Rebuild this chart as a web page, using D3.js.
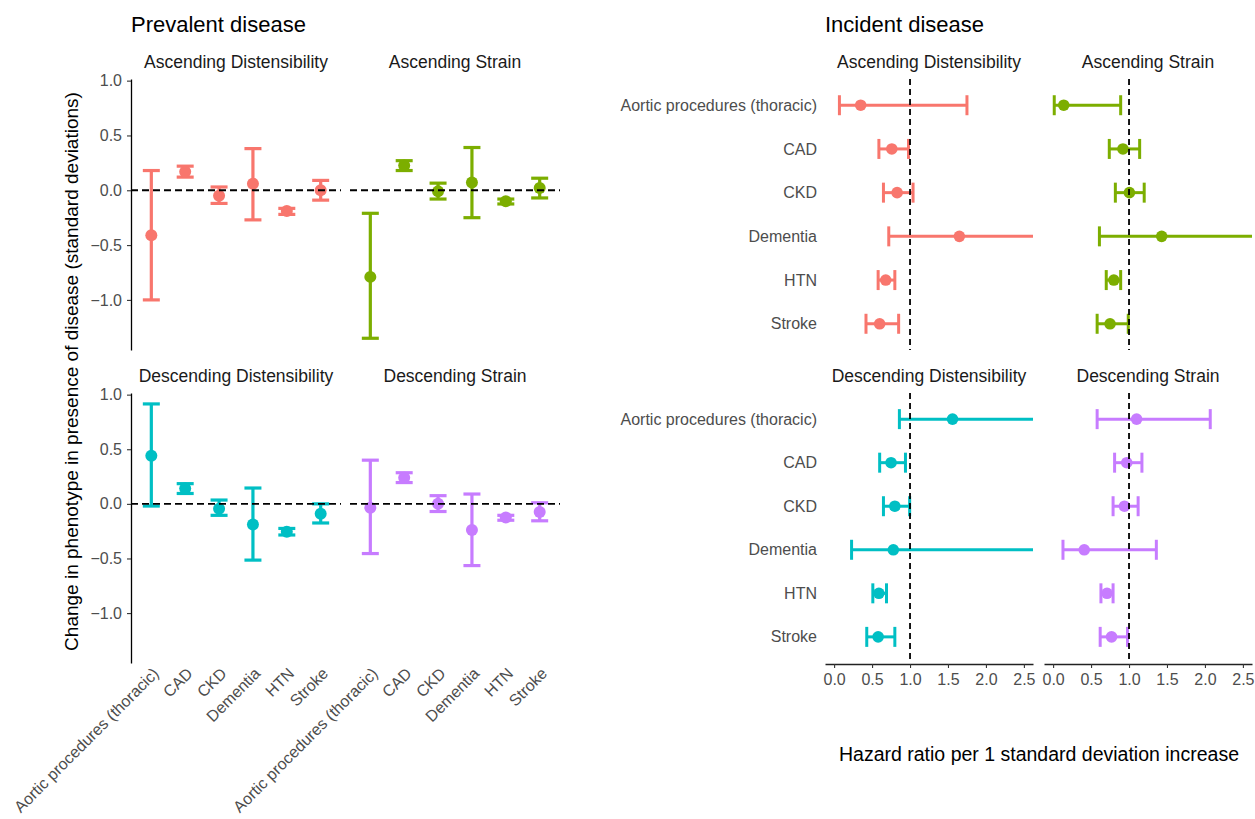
<!DOCTYPE html>
<html>
<head>
<meta charset="utf-8">
<script src="https://cdn.jsdelivr.net/npm/d3@7"></script>
<style>
  body { margin: 0; background: #fff; }
  svg { font-family: "Liberation Sans", Arial, Helvetica, sans-serif; }
  .tick text { fill: #4d4d4d; font-size: 16px; }
</style>
</head>
<body>
<svg id="chart" width="1255" height="819"></svg>
<script>
// Data

var diseases = ["Aortic procedures (thoracic)", "CAD", "CKD", "Dementia", "HTN", "Stroke"];
var phenotypes = ["Ascending Distensibility", "Ascending Strain", "Descending Distensibility", "Descending Strain"];
var phenoColors = ["#F8766D", "#7CAE00", "#00BFC4", "#C77CFF"];

// prevalent disease: [estimate, lower, upper] in SD units, one row per disease
var prevAscDist = [[-0.41, -1.00, 0.18], [0.17, 0.12, 0.22], [-0.05, -0.12, 0.03], [0.06, -0.27, 0.38], [-0.19, -0.22, -0.165], [0.00, -0.09, 0.09]];
var prevAscStrain = [[-0.79, -1.35, -0.21], [0.225, 0.18, 0.27], [-0.01, -0.08, 0.065], [0.07, -0.25, 0.39], [-0.10, -0.125, -0.08], [0.02, -0.07, 0.11]];
var prevDescDist = [[0.44, -0.02, 0.915], [0.14, 0.095, 0.185], [-0.045, -0.105, 0.035], [-0.19, -0.515, 0.145], [-0.255, -0.285, -0.225], [-0.09, -0.175, 0.00]];
var prevDescStrain = [[-0.035, -0.455, 0.40], [0.24, 0.195, 0.285], [0.00, -0.07, 0.075], [-0.24, -0.565, 0.09], [-0.125, -0.15, -0.105], [-0.075, -0.155, 0.01]];

// incident disease: [hazard ratio, lower, upper] per 1 SD
var incAscDist = [[0.35, 0.07, 1.75], [0.76, 0.59, 0.98], [0.83, 0.65, 1.04], [1.65, 0.72, 3.75], [0.68, 0.58, 0.80], [0.60, 0.42, 0.85]];
var incAscStrain = [[0.14, 0.015, 0.89], [0.92, 0.74, 1.14], [1.005, 0.82, 1.20], [1.43, 0.61, 3.30], [0.80, 0.70, 0.89], [0.75, 0.58, 0.99]];
var incDescDist = [[1.56, 0.86, 2.85], [0.75, 0.60, 0.94], [0.80, 0.65, 0.995], [0.78, 0.23, 2.70], [0.59, 0.51, 0.69], [0.58, 0.43, 0.80]];
var incDescStrain = [[1.10, 0.58, 2.07], [0.97, 0.81, 1.17], [0.94, 0.79, 1.12], [0.41, 0.13, 1.36], [0.71, 0.63, 0.79], [0.77, 0.62, 0.98]];

var prevYTicks = [-1.0, -0.5, 0.0, 0.5, 1.0];
var incXTicks = [0.0, 0.5, 1.0, 1.5, 2.0, 2.5];

var prevData = [prevAscDist, prevAscStrain, prevDescDist, prevDescStrain];
var incData = [incAscDist, incAscStrain, incDescDist, incDescStrain];

// Layout

var svg = d3.select("#chart");
var rows = [[79, 350], [393, 663]];
var leftCols = [[131, 341], [350, 560]];
var rightCols = [[825, 1033], [1044, 1252]];
var fmt = d3.format(".1f");

svg.append("defs");

function addClip(id, x0, x1, y0, y1) {
  svg.select("defs").append("clipPath").attr("id", id)
    .append("rect").attr("x", x0).attr("y", y0).attr("width", x1 - x0).attr("height", y1 - y0);
}

function strip(text, cx, y) {
  svg.append("text")
    .attr("x", cx).attr("y", y)
    .attr("text-anchor", "middle")
    .attr("font-size", "17.5px")
    .attr("fill", "#1a1a1a")
    .text(text);
}

// Titles
svg.append("text").attr("x", 131).attr("y", 32).attr("font-size", "22px").attr("fill", "#000").text("Prevalent disease");
svg.append("text").attr("x", 825).attr("y", 32).attr("font-size", "22px").attr("fill", "#000").text("Incident disease");

// Prevalent disease facets (left)
phenotypes.forEach(function (p, i) {
  var r = rows[Math.floor(i / 2)], c = leftCols[i % 2];
  var x = d3.scalePoint().domain(diseases).range(c).padding(0.6);
  var y = d3.scaleLinear().domain([-1.457, 1.015]).range([r[1], r[0]]);
  var col = phenoColors[i];
  var g = svg.append("g");

  strip(p, (c[0] + c[1]) / 2, r[0] - 11);

  if (i % 2 === 0) {
    var ax = g.append("g")
      .attr("transform", "translate(" + c[0] + ",0)")
      .call(d3.axisLeft(y).tickValues(prevYTicks).tickFormat(fmt).tickSize(4).tickPadding(5).tickSizeOuter(0));
    ax.select(".domain").attr("stroke", "#000").attr("stroke-width", 1.3);
    ax.selectAll(".tick line").attr("stroke", "#333").attr("stroke-width", 1.1);
  }

  var d = prevData[i];
  var bars = g.selectAll("g.bar").data(d).enter().append("g").attr("class", "bar");
  bars.append("line")
    .attr("x1", function (v, k) { return x(diseases[k]); })
    .attr("x2", function (v, k) { return x(diseases[k]); })
    .attr("y1", function (v) { return y(v[1]); })
    .attr("y2", function (v) { return y(v[2]); })
    .attr("stroke", col).attr("stroke-width", 3.2);
  [1, 2].forEach(function (j) {
    bars.append("line")
      .attr("x1", function (v, k) { return x(diseases[k]) - 8.5; })
      .attr("x2", function (v, k) { return x(diseases[k]) + 8.5; })
      .attr("y1", function (v) { return y(v[j]); })
      .attr("y2", function (v) { return y(v[j]); })
      .attr("stroke", col).attr("stroke-width", 3.2);
  });
  bars.append("circle")
    .attr("cx", function (v, k) { return x(diseases[k]); })
    .attr("cy", function (v) { return y(v[0]); })
    .attr("r", 6)
    .attr("fill", col);

  g.append("line")
    .attr("x1", c[0]).attr("x2", c[1])
    .attr("y1", y(0)).attr("y2", y(0))
    .attr("stroke", "#000").attr("stroke-width", 1.8)
    .attr("stroke-dasharray", "7,4");

  // rotated disease labels under the bottom row
  if (i >= 2) {
    g.selectAll("text.xlab").data(diseases).enter().append("text")
      .attr("class", "xlab")
      .attr("transform", function (dz) { return "translate(" + x(dz) + ",666) rotate(-45)"; })
      .attr("text-anchor", "end")
      .attr("dy", "0.75em")
      .attr("font-size", "16px")
      .attr("fill", "#4d4d4d")
      .text(function (dz) { return dz; });
  }
});

svg.append("text")
  .attr("transform", "translate(78,371.5) rotate(-90)")
  .attr("text-anchor", "middle")
  .attr("font-size", "19px")
  .attr("fill", "#000")
  .text("Change in phenotype in presence of disease (standard deviations)");

// Incident disease facets (right)
phenotypes.forEach(function (p, i) {
  var r = rows[Math.floor(i / 2)], c = rightCols[i % 2];
  var x = d3.scaleLinear().domain([-0.12, 2.62]).range(c);
  var y = d3.scalePoint().domain(diseases).range(r).padding(0.6);
  var col = phenoColors[i];
  var clipId = "clip" + i;
  addClip(clipId, c[0], c[1], r[0] - 15, r[1] + 15);

  strip(p, (c[0] + c[1]) / 2, r[0] - 11);

  if (i % 2 === 0) {
    svg.append("g").selectAll("text").data(diseases).enter().append("text")
      .attr("x", c[0] - 8)
      .attr("y", function (dz) { return y(dz); })
      .attr("dy", "0.35em")
      .attr("text-anchor", "end")
      .attr("font-size", "16px")
      .attr("fill", "#4d4d4d")
      .text(function (dz) { return dz; });
  }

  if (i >= 2) {
    var ax = svg.append("g")
      .attr("transform", "translate(0," + (r[1] + 1) + ")")
      .call(d3.axisBottom(x).tickValues(incXTicks).tickFormat(fmt).tickSize(4).tickPadding(6).tickSizeOuter(0));
    ax.select(".domain").attr("stroke", "#222").attr("stroke-width", 1.3);
    ax.selectAll(".tick line").attr("stroke", "#333").attr("stroke-width", 1.1);
  }

  var g = svg.append("g").attr("clip-path", "url(#" + clipId + ")");
  var d = incData[i];
  var bars = g.selectAll("g.bar").data(d).enter().append("g").attr("class", "bar");
  bars.append("line")
    .attr("y1", function (v, k) { return y(diseases[k]); })
    .attr("y2", function (v, k) { return y(diseases[k]); })
    .attr("x1", function (v) { return x(v[1]); })
    .attr("x2", function (v) { return x(v[2]); })
    .attr("stroke", col).attr("stroke-width", 3);
  [1, 2].forEach(function (j) {
    bars.append("line")
      .attr("y1", function (v, k) { return y(diseases[k]) - 10; })
      .attr("y2", function (v, k) { return y(diseases[k]) + 10; })
      .attr("x1", function (v) { return x(v[j]); })
      .attr("x2", function (v) { return x(v[j]); })
      .attr("stroke", col).attr("stroke-width", 3);
  });
  bars.append("circle")
    .attr("cy", function (v, k) { return y(diseases[k]); })
    .attr("cx", function (v) { return x(v[0]); })
    .attr("r", 5.8)
    .attr("fill", col);

  g.append("line")
    .attr("x1", x(1)).attr("x2", x(1))
    .attr("y1", r[0]).attr("y2", r[1])
    .attr("stroke", "#000").attr("stroke-width", 1.8)
    .attr("stroke-dasharray", "6,4");
});

svg.append("text")
  .attr("x", 1039).attr("y", 761)
  .attr("text-anchor", "middle")
  .attr("font-size", "19.5px")
  .attr("fill", "#000")
  .text("Hazard ratio per 1 standard deviation increase");
</script>
</body>
</html>
